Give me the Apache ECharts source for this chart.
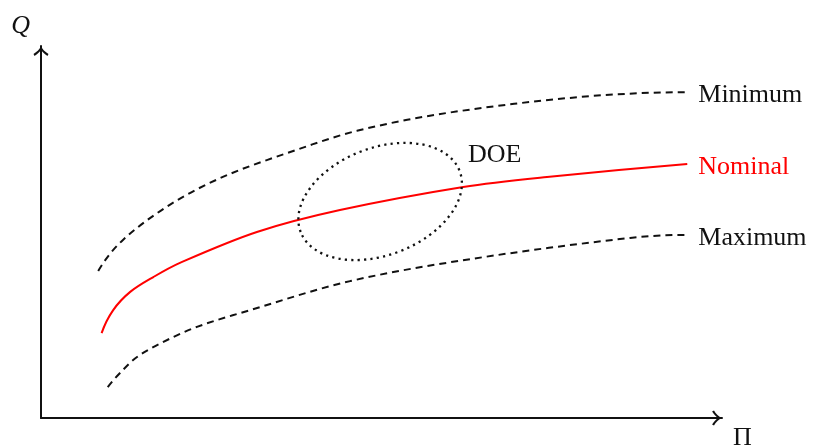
<!DOCTYPE html>
<html>
<head>
<meta charset="utf-8">
<script src="https://cdn.jsdelivr.net/npm/echarts@6/dist/echarts.min.js"></script>
<style>
  html, body { margin: 0; padding: 0; background: #fff; }
  #chart { width: 813px; height: 448px; }
</style>
</head>
<body>
<div id="chart"></div>
<script>
// Design-space curves: Π on the horizontal axis, Q on the vertical axis (0–100 each).
const minimumCurve = [
  [8.4, 39.5], [12.0, 47.8], [18.9, 57.3], [26.7, 64.8], [36.6, 71.5],
  [46.4, 77.2], [59.6, 82.0], [79.2, 86.3], [94.9, 87.6]
];
const nominalCurve = [
  [8.9, 22.8], [10.6, 29.0], [13.1, 33.9], [16.5, 37.9], [20.4, 41.7],
  [31.7, 50.0], [43.9, 55.9], [62.0, 62.1], [74.3, 64.8], [94.9, 68.3]
];
const maximumCurve = [
  [9.8, 8.3], [11.6, 12.1], [14.1, 16.4], [17.9, 20.4], [22.9, 24.5],
  [30.7, 29.0], [45.4, 36.8], [63.0, 42.7], [86.5, 48.4], [94.9, 49.2]
];

// Design-of-experiments region: centre (Π, Q), semi-axes (in Π and Q units), tilt in degrees.
const doeRegion = [[49.8, 58.2, 12.5, 14.4, 21]];
const doeLabelAt = [62.7, 70.6];

const serif = '"Liberation Serif", "DejaVu Serif", serif';
const ink = '#111';

// Open arrow head with curved arms, pointing up in its own box
const arrowHead = 'path://M7 0 C8 3 11 5.6 14 7.4 L13 9.2 C10.3 7.4 8.4 5.6 7 3.6 C5.6 5.6 3.7 7.4 1 9.2 L0 7.4 C3 5.6 6 3 7 0 Z';

function axisBase(name) {
  return {
    type: 'value',
    min: 0,
    max: 100,
    name: name,
    nameLocation: 'end',
    axisLine: {
      show: true,
      lineStyle: { color: ink, width: 2 },
      symbol: ['none', arrowHead],
      symbolSize: [15, 10],
      symbolOffset: [0, -5]
    },
    axisTick: { show: false },
    axisLabel: { show: false },
    splitLine: { show: false }
  };
}

// Smooth path through pixel points: chord-length Catmull-Rom tangents,
// with free (parabolic) end conditions so the curve ends keep their bend.
function splinePath(pts) {
  const n = pts.length;
  const d = [];
  for (let i = 0; i < n - 1; i++) {
    d.push(Math.hypot(pts[i + 1][0] - pts[i][0], pts[i + 1][1] - pts[i][1]));
  }
  const m = [];
  for (let i = 1; i < n - 1; i++) {
    const s = d[i - 1] + d[i];
    m[i] = [(pts[i + 1][0] - pts[i - 1][0]) / s, (pts[i + 1][1] - pts[i - 1][1]) / s];
  }
  m[0] = [2 * (pts[1][0] - pts[0][0]) / d[0] - m[1][0], 2 * (pts[1][1] - pts[0][1]) / d[0] - m[1][1]];
  m[n - 1] = [
    2 * (pts[n - 1][0] - pts[n - 2][0]) / d[n - 2] - m[n - 2][0],
    2 * (pts[n - 1][1] - pts[n - 2][1]) / d[n - 2] - m[n - 2][1]
  ];
  let path = 'M' + pts[0][0] + ' ' + pts[0][1];
  for (let i = 0; i < n - 1; i++) {
    const k = d[i] / 3;
    const c1 = [pts[i][0] + m[i][0] * k, pts[i][1] + m[i][1] * k];
    const c2 = [pts[i + 1][0] - m[i + 1][0] * k, pts[i + 1][1] - m[i + 1][1] * k];
    path += ' C' + c1[0] + ' ' + c1[1] + ' ' + c2[0] + ' ' + c2[1] + ' ' + pts[i + 1][0] + ' ' + pts[i + 1][1];
  }
  return path;
}

function curveSeries(name, data, color, dashed) {
  return {
    type: 'custom',
    name: name,
    data: data,
    silent: true,
    animation: false,
    renderItem: function (params, api) {
      if (params.dataIndex !== 0) return null;
      const pts = data.map(function (p) { return api.coord(p); });
      const end = pts[pts.length - 1];
      return {
        type: 'group',
        children: [
          {
            type: 'path',
            shape: { pathData: splinePath(pts) },
            style: {
              fill: null,
              stroke: color,
              lineWidth: 2,
              lineDash: dashed ? [7, 5] : null
            }
          },
          {
            type: 'text',
            x: end[0] + 11,
            y: end[1] + 3,
            style: {
              text: name,
              fill: color,
              font: '26px ' + serif,
              textAlign: 'left',
              textVerticalAlign: 'middle'
            }
          }
        ]
      };
    }
  };
}

const chart = echarts.init(document.getElementById('chart'), null, { renderer: 'canvas' });

chart.setOption({
  backgroundColor: '#fff',
  animation: false,
  grid: { left: 41, top: 46, right: 91, bottom: 30, outerBoundsMode: 'none' },
  xAxis: Object.assign(axisBase('Π'), {
    nameGap: 11,
    nameTextStyle: {
      fontFamily: serif, fontSize: 26, color: ink,
      align: 'left', verticalAlign: 'top', padding: [7, 0, 0, 0]
    }
  }),
  yAxis: Object.assign(axisBase('Q'), {
    nameGap: 7,
    nameTextStyle: {
      fontFamily: serif, fontStyle: 'italic', fontSize: 26, color: ink,
      align: 'right', verticalAlign: 'bottom', padding: [0, 11, 0, 0]
    }
  }),
  series: [
    curveSeries('Minimum', minimumCurve, ink, true),
    curveSeries('Nominal', nominalCurve, '#ff0000', false),
    curveSeries('Maximum', maximumCurve, ink, true),
    {
      type: 'custom',
      name: 'DOE',
      silent: true,
      animation: false,
      data: doeRegion,
      renderItem: function (params, api) {
        const c = api.coord([api.value(0), api.value(1)]);
        const r = api.size([api.value(2), api.value(3)]);
        const t = api.coord(doeLabelAt);
        return {
          type: 'group',
          children: [
            {
              type: 'ellipse',
              x: c[0],
              y: c[1],
              rotation: api.value(4) * Math.PI / 180,
              shape: { cx: 0, cy: 0, rx: r[0], ry: r[1] },
              style: {
                fill: null,
                stroke: ink,
                lineWidth: 2.3,
                lineDash: [2.2, 4.2]
              }
            },
            {
              type: 'text',
              x: t[0],
              y: t[1],
              style: {
                text: 'DOE',
                fill: ink,
                font: '26px ' + serif,
                textAlign: 'left',
                textVerticalAlign: 'middle'
              }
            }
          ]
        };
      }
    }
  ]
});
</script>
</body>
</html>
